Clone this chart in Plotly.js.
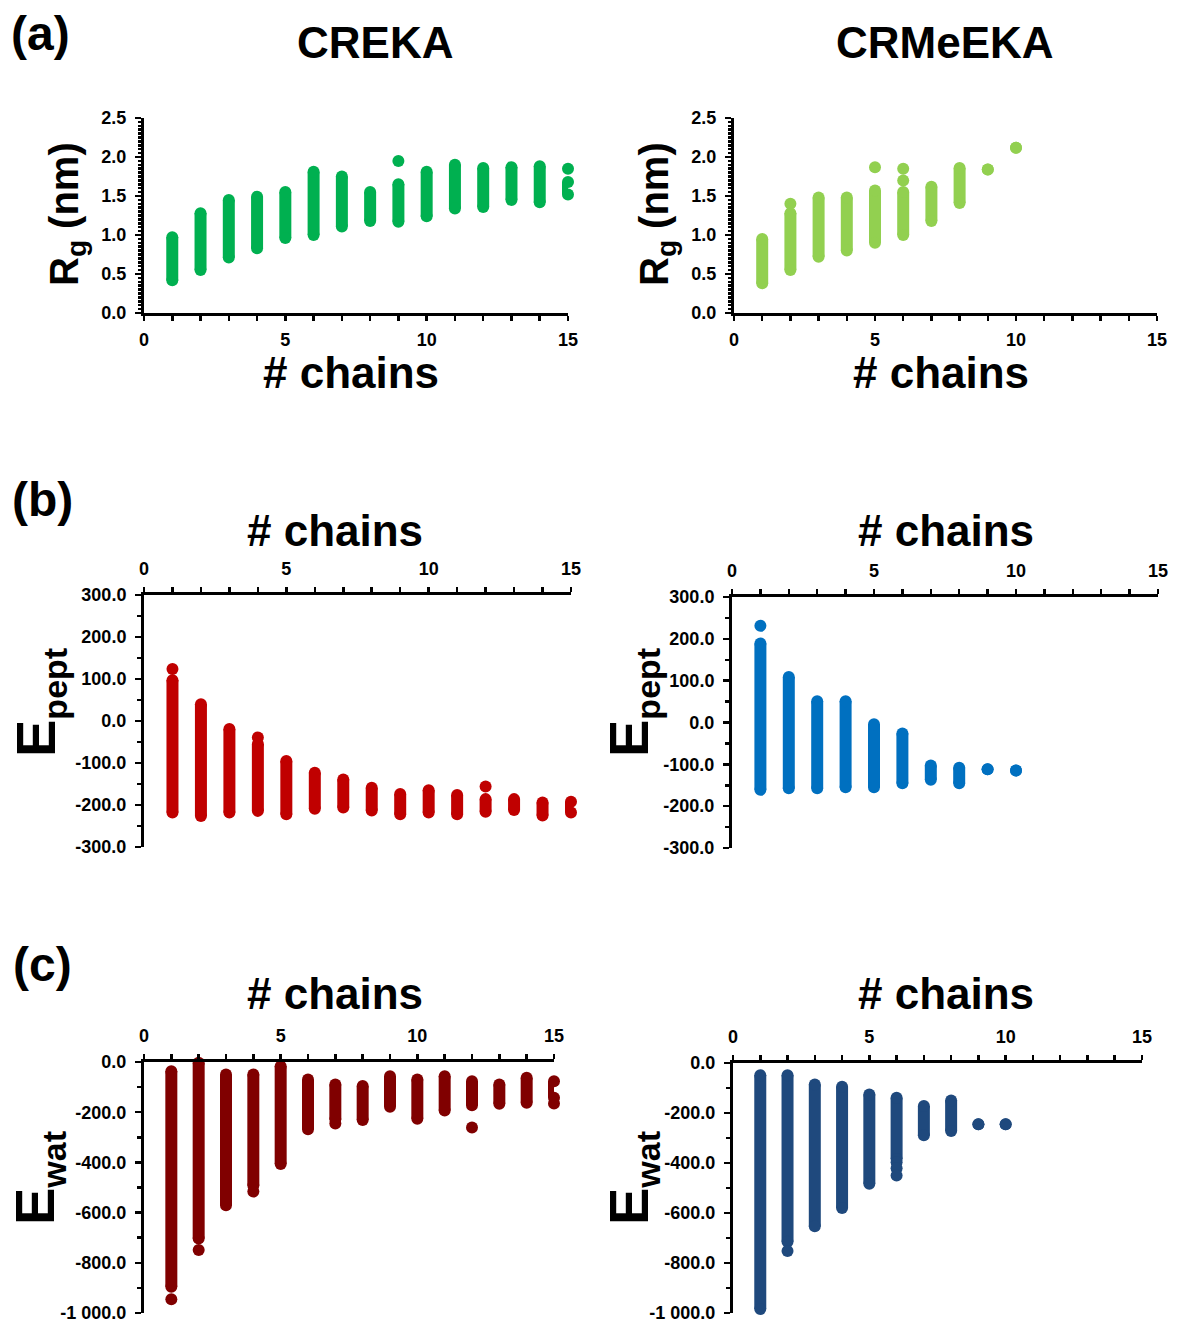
<!DOCTYPE html>
<html><head><meta charset="utf-8">
<script src="https://cdn.plot.ly/plotly-3.0.1.min.js"></script>
<style>html,body{margin:0;padding:0;background:#fff}</style>
</head><body><div id="chart" style="width:1177px;height:1326px"></div>
<script>
// ---------------- data ----------------
const chainsCreka = [1,2,3,4,5,6,7,8,9,10,11,12,13,14,15];
const chainsCrmeeka = [1,2,3,4,5,6,7,8,9,10];

// (a) radius of gyration (nm): lower / upper end of each column + isolated points
const rgCrekaMin = [0.42,0.55,0.71,0.83,0.96,1.00,1.11,1.18,1.17,1.24,1.34,1.36,1.45,1.42,1.52];
const rgCrekaMax = [0.97,1.28,1.45,1.49,1.55,1.81,1.75,1.55,1.65,1.81,1.90,1.86,1.87,1.88,1.68];
const rgCrekaExtraX = [9,15];
const rgCrekaExtraY = [1.95,1.85];
const rgCrmeekaMin = [0.38,0.55,0.72,0.80,0.90,1.00,1.18,1.41,1.84,2.12];
const rgCrmeekaMax = [0.95,1.28,1.48,1.48,1.57,1.55,1.62,1.86,1.84,2.12];
const rgCrmeekaExtraX = [2,5,6,6];
const rgCrmeekaExtraY = [1.40,1.87,1.85,1.70];

// (b) E_pept
const epCrekaMin = [-218,-226,-218,-214,-222,-209,-206,-213,-222,-218,-222,-216,-212,-225,-218];
const epCrekaMax = [97,40,-19,-55,-95,-123,-139,-159,-174,-165,-176,-186,-186,-194,-192];
const epCrekaExtraX = [1,4,12];
const epCrekaExtraY = [124,-39,-156];
const epCrmeekaMin = [-161,-157,-157,-155,-155,-145,-137,-145,-112,-115];
const epCrmeekaMax = [189,109,51,51,-4,-26,-103,-108,-112,-115];
const epCrmeekaExtraX = [1];
const epCrmeekaExtraY = [231];

// (c) E_wat
const ewCrekaMin = [-895,-703,-571,-492,-406,-268,-228,-231,-178,-226,-193,-172,-166,-162,-142];
const ewCrekaMax = [-37,-3,-50,-50,-17,-70,-90,-96,-57,-70,-57,-77,-90,-63,-77];
const ewCrekaExtraX = [1,2,4,7,12,15];
const ewCrekaExtraY = [-945,-749,-516,-245,-261,-165];
const ewCrmeekaMin = [-984,-715,-653,-580,-483,-384,-289,-272,-245,-245];
const ewCrmeekaMax = [-49,-49,-86,-95,-126,-139,-172,-150,-245,-245];
const ewCrmeekaExtraX = [2,6,6,6];
const ewCrmeekaExtraY = [-752,-397,-421,-450];

// tick labels
const xTickVals = [0,5,10,15];
const xTickText = ['0','5','10','15'];
const rgTickVals = [0,0.5,1,1.5,2,2.5];
const rgTickText = ['0.0','0.5','1.0','1.5','2.0','2.5'];
const epTickVals = [300,200,100,0,-100,-200,-300];
const epTickText = ['300.0','200.0','100.0','0.0','-100.0','-200.0','-300.0'];
const ewTickVals = [0,-200,-400,-600,-800,-1000];
const ewTickText = ['0.0','-200.0','-400.0','-600.0','-800.0','-1 000.0'];

// ---------------- build ----------------
const W = 1177, H = 1326;
const FONT = 'Liberation Sans, Arial, sans-serif';
const MS = 12;

function strips(xs, mins, maxs, exX, exY, color, xa, ya) {
  const lx = [], ly = [], mx = [], my = [];
  xs.forEach((x, i) => {
    lx.push(x, x, null); ly.push(mins[i], maxs[i], null);
    mx.push(x, x); my.push(mins[i], maxs[i]);
  });
  exX.forEach((x, i) => { mx.push(x); my.push(exY[i]); });
  return [
    {type:'scatter', mode:'lines', x:lx, y:ly, xaxis:xa, yaxis:ya, cliponaxis:false,
     line:{color:color, width:MS}, hoverinfo:'skip', connectgaps:false},
    {type:'scatter', mode:'markers', x:mx, y:my, xaxis:xa, yaxis:ya, cliponaxis:false,
     marker:{color:color, size:MS, line:{width:0}}}
  ];
}

const data = [].concat(
  strips(chainsCreka, rgCrekaMin, rgCrekaMax, rgCrekaExtraX, rgCrekaExtraY, '#00B050', 'x', 'y'),
  strips(chainsCrmeeka, rgCrmeekaMin, rgCrmeekaMax, rgCrmeekaExtraX, rgCrmeekaExtraY, '#92D050', 'x2', 'y2'),
  strips(chainsCreka, epCrekaMin, epCrekaMax, epCrekaExtraX, epCrekaExtraY, '#C00000', 'x3', 'y3'),
  strips(chainsCrmeeka, epCrmeekaMin, epCrmeekaMax, epCrmeekaExtraX, epCrmeekaExtraY, '#0070C0', 'x4', 'y4'),
  strips(chainsCreka, ewCrekaMin, ewCrekaMax, ewCrekaExtraX, ewCrekaExtraY, '#800000', 'x5', 'y5'),
  strips(chainsCrmeeka, ewCrmeekaMin, ewCrmeekaMax, ewCrmeekaExtraX, ewCrmeekaExtraY, '#1F497D', 'x6', 'y6')
);

const tickFont = {family:FONT, size:18, color:'#000', weight:'bold'};
function xAxis(l, r, anchor, side) {
  return {domain:[l/W, r/W], anchor:anchor, side:side, range:[0,15], tickmode:'array',
    tickvals:xTickVals, ticktext:xTickText, ticks:'outside', ticklen:5, tickwidth:2.5, tickcolor:'#000',
    minor:{tickmode:'linear', tick0:0, dtick:1, ticks:'outside', ticklen:5, tickwidth:2.5, tickcolor:'#000'},
    showline:true, linewidth:3, linecolor:'#000', showgrid:false, zeroline:false,
    tickfont:tickFont, ticklabelstandoff:(side === 'bottom' ? 3 : 5), fixedrange:true};
}
function yAxis(t, b, anchor, range, vals, text, minorStep, minorLen) {
  return {domain:[1-b/H, 1-t/H], anchor:anchor, range:range, tickmode:'array',
    tickvals:vals, ticktext:text, ticks:'outside', ticklen:6, tickwidth:2.5, tickcolor:'#000',
    minor:{tickmode:'linear', tick0:0, dtick:minorStep, ticks:'outside', ticklen:minorLen, tickwidth:2.5, tickcolor:'#000'},
    showline:true, linewidth:3, linecolor:'#000', showgrid:false, zeroline:false,
    tickfont:tickFont, ticklabelstandoff:5, fixedrange:true};
}

function ann(text, px, py, size, angle) {
  return {text:text, x:px/W, y:1-py/H, xref:'paper', yref:'paper', showarrow:false,
    xanchor:'center', yanchor:'middle', textangle:angle||0,
    font:{family:FONT, size:size, color:'#000', weight:'bold'}};
}

const layout = {
  width:W, height:H, margin:{l:0,r:0,t:0,b:0}, showlegend:false,
  paper_bgcolor:'#fff', plot_bgcolor:'rgba(0,0,0,0)',
  xaxis: xAxis(144, 568, 'y', 'bottom'),
  yaxis: yAxis(118, 313, 'x', [0,2.5], rgTickVals, rgTickText, 0.05, 3),
  xaxis2: xAxis(734, 1157, 'y2', 'bottom'),
  yaxis2: yAxis(118, 313, 'x2', [0,2.5], rgTickVals, rgTickText, 0.05, 3),
  xaxis3: xAxis(144, 571, 'y3', 'top'),
  yaxis3: yAxis(595, 847, 'x3', [-300,300], epTickVals, epTickText, 50, 4),
  xaxis4: xAxis(732, 1158, 'y4', 'top'),
  yaxis4: yAxis(597, 848, 'x4', [-300,300], epTickVals, epTickText, 50, 4),
  xaxis5: xAxis(144, 554, 'y5', 'top'),
  yaxis5: yAxis(1062, 1313, 'x5', [-1000,0], ewTickVals, ewTickText, 100, 4),
  xaxis6: xAxis(733, 1142, 'y6', 'top'),
  yaxis6: yAxis(1063, 1313, 'x6', [-1000,0], ewTickVals, ewTickText, 100, 4),
  annotations: [
    ann('(a)', 40, 33, 48), ann('(b)', 42, 499, 48), ann('(c)', 42, 964, 48),
    ann('CREKA', 375, 42, 44), ann('CRMeEKA', 945, 42, 44),
    ann('# chains', 351, 372, 44), ann('# chains', 941, 372, 44),
    ann('# chains', 335, 530, 44), ann('# chains', 946, 530, 44),
    ann('# chains', 335, 993, 44), ann('# chains', 946, 993, 44),
    ann('R<sub>g</sub> (nm)', 67, 214, 40, -90), ann('R<sub>g</sub> (nm)', 657, 214, 40, -90),
    ann('E<sub><span style="font-size:34px">pept</span></sub>', 39, 703, 56, -90),
    ann('E<sub><span style="font-size:34px">pept</span></sub>', 632, 703, 56, -90),
    ann('E<sub><span style="font-size:34px">wat</span></sub>', 38, 1178, 56, -90),
    ann('E<sub><span style="font-size:34px">wat</span></sub>', 632, 1178, 56, -90)
  ]
};

Plotly.newPlot('chart', data, layout, {staticPlot:true, displayModeBar:false});
</script></body></html>
